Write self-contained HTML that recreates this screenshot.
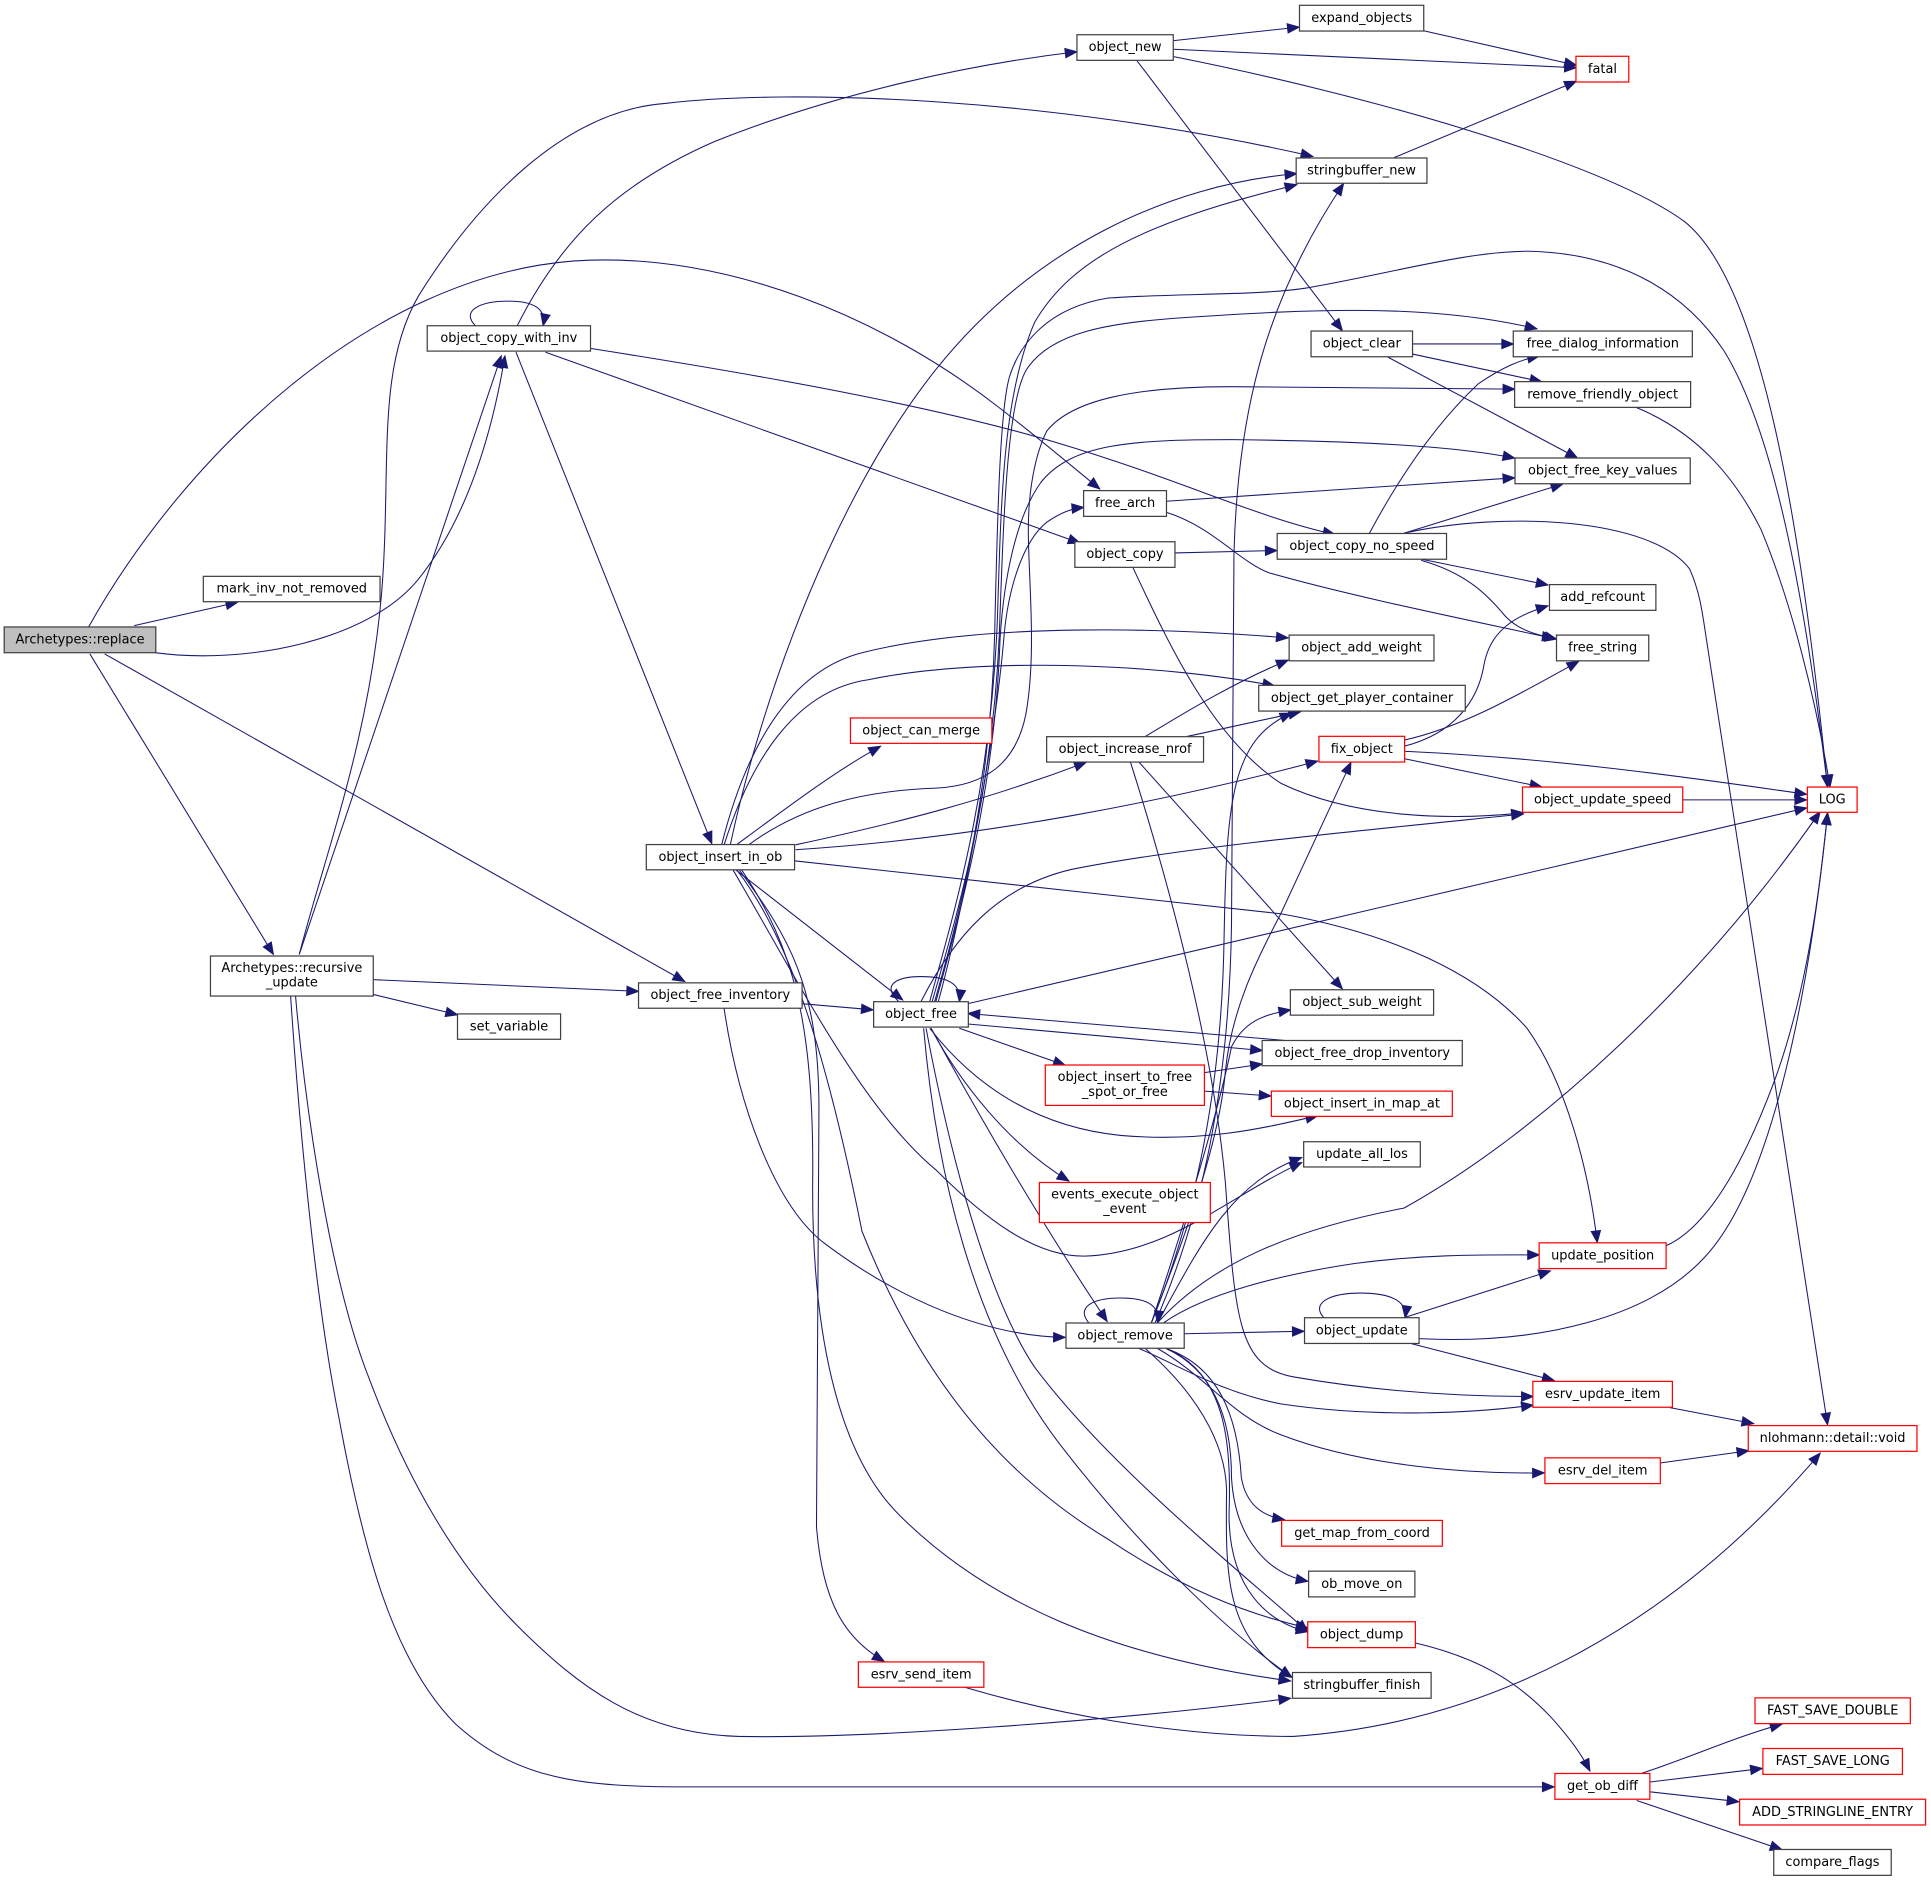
<!DOCTYPE html>
<html>
<head>
<meta charset="utf-8">
<style>
html,body{margin:0;padding:0;background:#ffffff;width:1931px;height:1881px;overflow:hidden}
svg{display:block}
text{font-family:"DejaVu Sans","Liberation Sans",sans-serif;font-size:10.5px;fill:#000;text-anchor:middle}
</style>
</head>
<body>
<svg width="1931" height="1881" viewBox="0 0 1568 1527.4" preserveAspectRatio="none" xmlns="http://www.w3.org/2000/svg">
<defs>
<marker id="a" markerUnits="userSpaceOnUse" markerWidth="12" markerHeight="10" refX="9.5" refY="3.8" orient="auto" overflow="visible">
<path d="M0,0 L9.5,3.8 L0,7.6 z" fill="#191970" stroke="#191970" stroke-width="0.8"/>
</marker>
</defs>
<rect x="0" y="0" width="1568" height="1527.4" fill="#ffffff"/>
<g fill="none" stroke="#191970" stroke-width="0.85" marker-end="url(#a)">
<!-- Archetypes::replace -->
<path d="M72,509 C150,370 300,225 465,212 C590,203 720,260 810,330 C845,357 872,380 893,397"/>
<path d="M109,508 L193,489"/>
<path d="M126,530 C200,540 300,520 340,470 C380,420 400,350 410,289"/>
<path d="M73,531 L222,775"/>
<path d="M85,531 L556,797"/>
<!-- recursive_update -->
<path d="M243,775 L407,289"/>
<path d="M243,775 C265,690 300,600 310,480 C318,380 305,300 340,240 C390,160 460,90 540,84 C640,72 850,78 1066,127"/>
<path d="M303,795.5 L518.5,805"/>
<path d="M303,807.5 L371.5,824"/>
<path d="M240,809 C248,900 268,1040 300,1120 C330,1200 370,1270 420,1320 C470,1370 520,1408 600,1410 C700,1412 900,1398 1048,1379"/>
<path d="M236,809 C242,900 255,1050 275,1150 C295,1260 320,1350 370,1400 C420,1445 470,1451 560,1451 L1262,1451"/>
<!-- object_copy_with_inv -->
<path d="M386,264.5 C374,252 390,244.5 413,244.5 C432,244.5 444,250 441,264.5"/>
<path d="M420,264.5 C455,195 500,150 580,115 C680,75 790,52 874.5,42"/>
<path d="M480,283 C620,305 760,330 860,360 C960,390 1020,420 1084,434"/>
<path d="M443,286 L877,441"/>
<path d="M419,286 L578,685"/>
<!-- object_new -->
<path d="M953,33 L1055,22"/>
<path d="M953,40 L1280,55"/>
<path d="M953,46 C1100,75 1300,130 1368,180 C1430,230 1462,420 1484,639"/>
<path d="M923,49 L1090,268.5"/>
<path d="M1156,25 L1280,53"/>
<path d="M1132,128 L1280,66"/>
<!-- object_clear -->
<path d="M1147,279.3 L1229,279.3"/>
<path d="M1147,287.5 L1252,310"/>
<path d="M1127,290 L1281,372"/>
<path d="M1329,331 C1380,352 1410,390 1430,430 C1455,490 1475,570 1486,639"/>
<!-- object_copy_no_speed -->
<path d="M1140,433 C1220,415 1340,420 1372,462 C1380,480 1382,495 1385,515 L1484,1157"/>
<path d="M1112,433 C1135,390 1165,345 1200,312 C1220,298 1235,292 1250,289"/>
<path d="M1140,433 L1269,393"/>
<path d="M1154,454 L1257,475"/>
<path d="M1154,455 C1190,465 1208,483 1222,500 C1232,511 1248,516 1262,518"/>
<!-- free_arch / object_copy -->
<path d="M947,407 L1230,388"/>
<path d="M947,416 C985,428 1005,455 1030,465 C1100,485 1200,505 1264,519"/>
<path d="M954,449 L1037,447"/>
<path d="M920,461 C950,525 985,600 1040,636 C1100,665 1180,666 1237,660"/>
<!-- fix_object -->
<path d="M1140,606 C1180,596 1200,570 1205,540 C1210,512 1230,500 1257,492"/>
<path d="M1140,601 C1190,590 1240,560 1282,537"/>
<path d="M1140,610 C1250,615 1350,628 1467,645"/>
<path d="M1140,616 L1252,639"/>
<path d="M1366,649.5 L1467,649.5"/>
<!-- object_increase_nrof -->
<path d="M930,598 C960,580 1000,555 1046,536"/>
<path d="M964,598 L1056,578"/>
<path d="M925,619 L1090,803"/>
<path d="M918,619 C950,720 985,850 995,960 C1003,1070 1005,1110 1050,1118 C1130,1132 1200,1134 1245,1134"/>
<!-- object_insert_in_ob -->
<path d="M586,686 C605,610 640,545 700,530 C800,505 950,510 1046,518"/>
<path d="M588,686 C612,610 650,560 705,552 C800,532 950,540 1035,557"/>
<path d="M598,686 C640,655 680,625 715,606"/>
<path d="M608,686 C650,655 700,642 760,640 C800,638 825,620 833,580 C842,530 835,470 835,430 C835,400 840,370 850,350 C870,325 920,314 1000,314 L1230,316"/>
<path d="M593,686 C620,560 680,400 760,300 C840,200 950,150 1053,141"/>
<path d="M646,686 C730,668 800,650 882,619"/>
<path d="M646,690 C800,680 950,650 1070,618"/>
<path d="M645,699 C800,715 950,733 1040,742 C1130,758 1200,790 1240,835 C1272,880 1290,950 1297,1009"/>
<path d="M597,706 L733,812"/>
<path d="M595,706 C650,800 700,900 760,950 C800,990 840,1020 880,1020 C950,1018 1000,970 1057,944"/>
<path d="M600,706 C640,760 665,800 665,900 L663,1240 C668,1300 685,1330 718,1349"/>
<path d="M602,706 C645,770 660,830 660,950 C658,1080 680,1180 730,1230 C800,1300 900,1345 1048,1365"/>
<path d="M598,706 C640,760 670,850 700,1000 C740,1100 800,1190 900,1250 C960,1290 1010,1310 1062,1322"/>
<!-- object_free -->
<path d="M730,813.4 C716,801 726,793 748,793 C768,793 781,798 779,813.4"/>
<path d="M786,831.5 L1025,853"/>
<path d="M1045,845 L786,823"/>
<path d="M779,835 L865,865"/>
<path d="M755,835 C790,880 840,915 910,922 C980,928 1030,915 1070,906"/>
<path d="M756,835 C780,880 820,930 868,959"/>
<path d="M756,835 C800,915 850,1000 899,1073"/>
<path d="M752,835 C770,930 800,1050 840,1110 C900,1190 1000,1270 1062,1325"/>
<path d="M750,835 C760,950 790,1080 860,1172 C920,1250 990,1320 1049,1362"/>
<path d="M786,815 L1467,656"/>
<path d="M748,813 C775,760 810,720 870,706 C960,688 1100,675 1237,661"/>
<path d="M755,813 C775,740 805,640 810,500 C813,400 815,320 840,262 C870,210 930,180 1053,150"/>
<path d="M757,813 C778,740 808,640 812,500 C815,420 818,320 835,298 C855,270 900,262 960,258 C1020,254 1060,252 1100,252 C1160,252 1210,258 1248,267"/>
<path d="M759,813 C780,740 806,640 808,500 C810,420 812,330 820,305 C828,280 850,250 900,242 C960,238 1020,240 1060,234 C1130,222 1190,204 1242,204 C1320,206 1370,240 1400,285 C1440,350 1465,480 1484,639"/>
<path d="M760,813 C780,740 808,640 812,520 C815,470 825,420 845,392 C870,360 920,357 1000,357 C1100,358 1180,362 1230,372"/>
<path d="M762,813 C782,740 808,600 815,520 C818,480 830,440 850,424 C862,416 870,413 880,412"/>
<!-- object_free_inventory -->
<path d="M651,815 L709,820"/>
<path d="M588,819 C600,900 630,980 670,1010 C730,1055 800,1085 865,1086"/>
<!-- insert_to_free -->
<path d="M978,871 L1025,864"/>
<path d="M978,886 L1032,890"/>
<!-- object_remove -->
<path d="M884,1074 C874,1062 886,1054 910,1054 C930,1054 942,1059 940,1074"/>
<path d="M961.6,1083 L1059,1081"/>
<path d="M945,1074 C980,1050 1040,1035 1100,1026 C1160,1018 1210,1019 1250,1019"/>
<path d="M940,1074 C980,1030 1040,1000 1140,981 C1250,920 1380,800 1478,659"/>
<path d="M938,1074 C970,1000 998,900 1000,750 L1002,450 C1005,330 1030,240 1091,149"/>
<path d="M935,1074 C965,1000 992,900 994,760 C996,650 1000,600 1049,579"/>
<path d="M935,1074 C960,1010 990,930 995,870 C1000,820 1020,780 1040,742 L1097,619"/>
<path d="M935,1074 C960,1000 990,900 1000,850 C1010,830 1025,824 1048,820"/>
<path d="M940,1074 C975,1010 1000,960 1057,940"/>
<path d="M925,1095 C960,1110 990,1130 1040,1140 C1120,1152 1200,1147 1245,1141"/>
<path d="M940,1095 C980,1118 1000,1150 1040,1165 C1100,1188 1180,1197 1254,1196"/>
<path d="M947,1095 C990,1110 1005,1150 1008,1200 C1012,1222 1025,1231 1043,1234"/>
<path d="M947,1095 C990,1115 1000,1160 1000,1200 C1003,1250 1030,1278 1062,1284"/>
<path d="M947,1095 C995,1115 1000,1170 998,1230 C998,1290 1030,1318 1062,1325"/>
<path d="M930,1095 C970,1130 995,1170 996,1210 C995,1280 995,1330 1049,1362"/>
<!-- object_update -->
<path d="M1075,1070 C1064,1058 1080,1050 1105,1050 C1128,1050 1143,1056 1141,1070"/>
<path d="M1140,1070 L1259,1032"/>
<path d="M1152,1087 C1250,1092 1340,1070 1385,1020 C1440,960 1470,800 1484,660"/>
<path d="M1146,1091 L1262,1121"/>
<path d="M1352,1012 C1380,1000 1410,960 1440,880 C1470,800 1480,700 1484,660"/>
<!-- esrv -->
<path d="M1356,1143 L1424,1156"/>
<path d="M1348,1188 L1420,1178"/>
<path d="M783,1370 C850,1390 950,1410 1050,1410 C1200,1400 1350,1330 1478,1180"/>
<!-- object_dump / get_ob_diff -->
<path d="M1149,1334 C1200,1346 1232,1365 1260,1395 C1275,1412 1284,1424 1291,1438"/>
<path d="M1333,1440 C1370,1428 1410,1410 1447,1400"/>
<path d="M1340,1447 L1431,1436"/>
<path d="M1340,1455 L1412,1463"/>
<path d="M1329,1462 L1447,1502"/>
</g>

<g stroke-width="1">
<rect x="3.4" y="509.1" width="123.1" height="20.9" fill="#bfbfbf" stroke="#404040"/>
<rect x="165.1" y="468" width="143.5" height="20.6" fill="#fff" stroke="#404040"/>
<rect x="346.9" y="264.5" width="132.6" height="20.6" fill="#fff" stroke="#404040"/>
<rect x="170.9" y="776.3" width="132.2" height="32.5" fill="#fff" stroke="#404040"/>
<rect x="371.5" y="823.3" width="83.7" height="20.6" fill="#fff" stroke="#404040"/>
<rect x="518.5" y="798.1" width="132.8" height="20.6" fill="#fff" stroke="#404040"/>
<rect x="524.8" y="685.8" width="120.4" height="20.5" fill="#fff" stroke="#404040"/>
<rect x="690.6" y="583" width="114.8" height="20.6" fill="#fff" stroke="#ff0000"/>
<rect x="849.9" y="598.2" width="127.4" height="20.6" fill="#fff" stroke="#404040"/>
<rect x="709.4" y="813.4" width="76.9" height="20.6" fill="#fff" stroke="#404040"/>
<rect x="848.8" y="864.8" width="129.2" height="32.8" fill="#fff" stroke="#ff0000"/>
<rect x="844" y="960.2" width="138.8" height="32.5" fill="#fff" stroke="#ff0000"/>
<rect x="874.5" y="28.2" width="78.2" height="20.8" fill="#fff" stroke="#404040"/>
<rect x="879.9" y="398.4" width="67.3" height="20.9" fill="#fff" stroke="#404040"/>
<rect x="872.8" y="439.9" width="81.3" height="20.8" fill="#fff" stroke="#404040"/>
<rect x="1055.2" y="4.3" width="100.9" height="20.9" fill="#fff" stroke="#404040"/>
<rect x="1279.7" y="45.7" width="42.9" height="20.9" fill="#fff" stroke="#ff0000"/>
<rect x="1052.5" y="128.3" width="106.2" height="20.5" fill="#fff" stroke="#404040"/>
<rect x="1064.6" y="268.8" width="82.4" height="20.9" fill="#fff" stroke="#404040"/>
<rect x="1228.8" y="268.8" width="145.4" height="20.9" fill="#fff" stroke="#404040"/>
<rect x="1229.9" y="309.9" width="142.9" height="20.9" fill="#fff" stroke="#404040"/>
<rect x="1230.2" y="371.9" width="142.3" height="20.9" fill="#fff" stroke="#404040"/>
<rect x="1037.1" y="433.2" width="137.5" height="20.9" fill="#fff" stroke="#404040"/>
<rect x="1258.2" y="474.7" width="86.4" height="20.9" fill="#fff" stroke="#404040"/>
<rect x="1263.9" y="515.7" width="74.9" height="20.9" fill="#fff" stroke="#404040"/>
<rect x="1046.8" y="515.7" width="117.6" height="20.9" fill="#fff" stroke="#404040"/>
<rect x="1022.1" y="556.5" width="167.7" height="20.9" fill="#fff" stroke="#404040"/>
<rect x="1071" y="597.9" width="69.6" height="20.9" fill="#fff" stroke="#ff0000"/>
<rect x="1236.3" y="639.1" width="130.1" height="20.5" fill="#fff" stroke="#ff0000"/>
<rect x="1467.6" y="639.1" width="40.4" height="20.5" fill="#fff" stroke="#ff0000"/>
<rect x="1047.8" y="803.7" width="116.3" height="20.6" fill="#fff" stroke="#404040"/>
<rect x="1024.9" y="844.9" width="162.5" height="20.5" fill="#fff" stroke="#404040"/>
<rect x="1032.4" y="886" width="146.9" height="20.5" fill="#fff" stroke="#ff0000"/>
<rect x="1058.6" y="927.1" width="94.7" height="20.5" fill="#fff" stroke="#404040"/>
<rect x="1249.8" y="1009.2" width="103.1" height="20.9" fill="#fff" stroke="#ff0000"/>
<rect x="865.6" y="1074.3" width="96" height="20.5" fill="#fff" stroke="#404040"/>
<rect x="1059.3" y="1070" width="93" height="20.9" fill="#fff" stroke="#404040"/>
<rect x="1244.7" y="1121.7" width="113.3" height="21" fill="#fff" stroke="#ff0000"/>
<rect x="1419.6" y="1157.6" width="137" height="20.9" fill="#fff" stroke="#ff0000"/>
<rect x="1254.5" y="1183.8" width="93.7" height="20.9" fill="#fff" stroke="#ff0000"/>
<rect x="1040.7" y="1234.6" width="130.5" height="20.9" fill="#fff" stroke="#ff0000"/>
<rect x="1062.6" y="1275.8" width="86.3" height="20.9" fill="#fff" stroke="#404040"/>
<rect x="1061.9" y="1316.9" width="87.4" height="21" fill="#fff" stroke="#ff0000"/>
<rect x="1049.5" y="1358.1" width="112.6" height="20.9" fill="#fff" stroke="#404040"/>
<rect x="697" y="1349.5" width="101.9" height="20.6" fill="#fff" stroke="#ff0000"/>
<rect x="1425.1" y="1378.7" width="126.1" height="20.9" fill="#fff" stroke="#ff0000"/>
<rect x="1431.5" y="1419.8" width="113.3" height="21" fill="#fff" stroke="#ff0000"/>
<rect x="1412.6" y="1461" width="151" height="20.9" fill="#fff" stroke="#ff0000"/>
<rect x="1262.6" y="1440.1" width="77.1" height="20.9" fill="#fff" stroke="#ff0000"/>
<rect x="1440.3" y="1501.8" width="95.4" height="21" fill="#fff" stroke="#404040"/>
</g>

<g>
<text x="65" y="522.6">Archetypes::replace</text>
<text x="236.9" y="481.3">mark_inv_not_removed</text>
<text x="413.2" y="277.8">object_copy_with_inv</text>
<text x="237" y="789.2">Archetypes::recursive</text>
<text x="237" y="801.1">_update</text>
<text x="413.4" y="836.6">set_variable</text>
<text x="584.9" y="811.4">object_free_inventory</text>
<text x="585" y="699.1">object_insert_in_ob</text>
<text x="748" y="596.3">object_can_merge</text>
<text x="913.6" y="611.5">object_increase_nrof</text>
<text x="747.9" y="826.7">object_free</text>
<text x="913.4" y="877.9">object_insert_to_free</text>
<text x="913.4" y="889.8">_spot_or_free</text>
<text x="913.4" y="973.1">events_execute_object</text>
<text x="913.4" y="985">_event</text>
<text x="913.6" y="41.6">object_new</text>
<text x="913.6" y="411.9">free_arch</text>
<text x="913.5" y="453.3">object_copy</text>
<text x="1105.7" y="17.8">expand_objects</text>
<text x="1301.2" y="59.2">fatal</text>
<text x="1105.6" y="141.6">stringbuffer_new</text>
<text x="1105.8" y="282.3">object_clear</text>
<text x="1301.5" y="282.3">free_dialog_information</text>
<text x="1301.4" y="323.4">remove_friendly_object</text>
<text x="1301.4" y="385.4">object_free_key_values</text>
<text x="1105.9" y="446.7">object_copy_no_speed</text>
<text x="1301.4" y="488.2">add_refcount</text>
<text x="1301.4" y="529.2">free_string</text>
<text x="1105.6" y="529.2">object_add_weight</text>
<text x="1106" y="570">object_get_player_container</text>
<text x="1105.8" y="611.4">fix_object</text>
<text x="1301.4" y="652.4">object_update_speed</text>
<text x="1487.8" y="652.4">LOG</text>
<text x="1106" y="817">object_sub_weight</text>
<text x="1106.2" y="858.2">object_free_drop_inventory</text>
<text x="1105.9" y="899.3">object_insert_in_map_at</text>
<text x="1106" y="940.4">update_all_los</text>
<text x="1301.4" y="1022.7">update_position</text>
<text x="913.6" y="1087.6">object_remove</text>
<text x="1105.8" y="1083.5">object_update</text>
<text x="1301.4" y="1135.2">esrv_update_item</text>
<text x="1488.1" y="1171.1">nlohmann::detail::void</text>
<text x="1301.4" y="1197.3">esrv_del_item</text>
<text x="1106" y="1248.1">get_map_from_coord</text>
<text x="1105.8" y="1289.3">ob_move_on</text>
<text x="1105.6" y="1330.4">object_dump</text>
<text x="1105.8" y="1371.6">stringbuffer_finish</text>
<text x="748" y="1362.8">esrv_send_item</text>
<text x="1488.2" y="1392.2">FAST_SAVE_DOUBLE</text>
<text x="1488.2" y="1433.3">FAST_SAVE_LONG</text>
<text x="1488.1" y="1474.5">ADD_STRINGLINE_ENTRY</text>
<text x="1301.2" y="1453.6">get_ob_diff</text>
<text x="1488" y="1515.3">compare_flags</text>
</g>
</svg>
</body>
</html>
